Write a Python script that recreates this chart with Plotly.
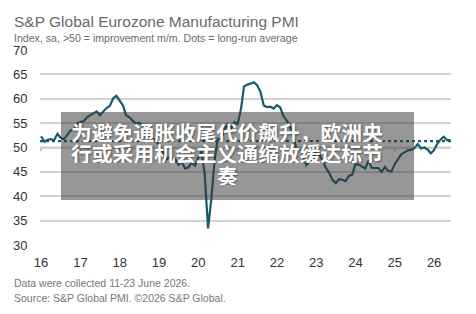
import pandas as pd
import plotly.graph_objects as go

# ---- data ----
pmi_2016 = [52.3, 51.2, 51.6, 51.7, 51.5, 52.8, 52.0, 51.7, 52.6, 53.5, 53.7, 54.9]
pmi_2017 = [55.2, 55.4, 56.2, 56.7, 57.0, 57.4, 56.6, 57.4, 58.1, 58.5, 60.1, 60.6]
pmi_2018 = [59.6, 58.6, 56.6, 56.2, 55.5, 54.9, 55.1, 54.6, 53.2, 52.0, 51.8, 51.4]
pmi_2019 = [50.5, 49.3, 47.5, 47.9, 47.7, 47.6, 46.5, 47.0, 45.7, 45.9, 46.9, 46.3]
pmi_2020 = [47.9, 49.2, 44.5, 33.4, 39.4, 47.4, 51.8, 51.7, 53.7, 54.8, 53.8, 55.2]
pmi_2021 = [54.8, 57.9, 62.5, 62.9, 63.1, 63.4, 62.8, 61.4, 58.6, 58.3, 58.4, 58.0]
pmi_2022 = [58.7, 58.2, 56.5, 55.5, 54.6, 52.1, 49.8, 49.6, 48.4, 46.4, 47.1, 47.8]
pmi_2023 = [48.8, 48.5, 47.3, 45.8, 44.8, 43.4, 42.7, 43.5, 43.4, 43.1, 44.2, 44.4]
pmi_2024 = [46.6, 46.5, 46.1, 45.7, 47.3, 45.8, 45.8, 45.8, 45.0, 46.0, 45.2, 45.1]
pmi_2025 = [46.6, 47.6, 48.6, 49.0, 49.4, 49.5, 49.8, 50.7, 49.8, 50.0, 49.6, 48.8]
pmi_2026 = [49.5, 50.8, 51.6, 52.2, 51.5, 51.5]
long_run_average = 51.3

years = list(range(2016, 2027))
tick_labels = ["16", "17", "18", "19", "20", "21", "22", "23", "24", "25", "26"]
y_ticks = [30, 35, 40, 45, 50, 55, 60, 65, 70]

title = "S&P Global Eurozone Manufacturing PMI"
subtitle = "Index, sa, >50 = improvement m/m. Dots = long-run average"
note1 = "Data were collected 11-23 June 2026."
note2 = "Source: S&P Global PMI. ©2026 S&P Global."
overlay_lines = ["为避免通胀收尾代价飙升，欧洲央", "行或采用机会主义通缩放缓达标节", "奏"]

pmi = (pmi_2016 + pmi_2017 + pmi_2018 + pmi_2019 + pmi_2020 + pmi_2021 +
       pmi_2022 + pmi_2023 + pmi_2024 + pmi_2025 + pmi_2026)
dates = pd.date_range("2016-01-01", periods=len(pmi), freq="MS")

# ---- layout geometry ----
W, H = 476, 314
ML, MR, MT, MB = 40, 25, 50, 69
PW, PH = W - ML - MR, H - MT - MB

def px_x(x):
    return (x - ML) / PW

def px_y(y):
    return (H - MB - y) / PH

LINE = "#135d6c"
x_range = ["2015-12-22", "2026-06-07"]

fig = go.Figure()
fig.add_trace(go.Scatter(
    x=[x_range[0], x_range[1]], y=[long_run_average, long_run_average],
    mode="lines", line=dict(color=LINE, width=2.2, dash="dot"),
    hoverinfo="skip", showlegend=False))
fig.add_trace(go.Scatter(
    x=dates, y=pmi, mode="lines",
    line=dict(color=LINE, width=2.2), showlegend=False))

shapes = []
# axis line at 50 and year ticks
shapes.append(dict(type="line", xref="paper", yref="y", x0=0, x1=1, y0=50, y1=50,
                   line=dict(color="#9a9a9a", width=1.5), layer="below"))
for yr in years:
    shapes.append(dict(type="line", xref="x", yref="y", x0=f"{yr}-01-01", x1=f"{yr}-01-01",
                       y0=50, y1=49.25, line=dict(color="#9a9a9a", width=1.2), layer="below"))
# grey overlay box
shapes.append(dict(type="rect", xref="paper", yref="paper",
                   x0=px_x(61), x1=px_x(414), y0=px_y(200), y1=px_y(112),
                   fillcolor="rgba(55,55,55,0.52)", line=dict(width=0), layer="above"))

annotations = [
    dict(text=title, xref="paper", yref="paper", x=px_x(12), y=px_y(21),
         xanchor="left", yanchor="middle", showarrow=False,
         font=dict(family="Liberation Sans, Arial", size=15.5, color="#6a6a6a")),
    dict(text=subtitle, xref="paper", yref="paper", x=px_x(12), y=px_y(37.5),
         xanchor="left", yanchor="middle", showarrow=False,
         font=dict(family="Liberation Sans, Arial", size=10.6, color="#6a6a6a")),
    dict(text=note1, xref="paper", yref="paper", x=px_x(12), y=px_y(282.5),
         xanchor="left", yanchor="middle", showarrow=False,
         font=dict(family="Liberation Sans, Arial", size=10.5, color="#777777")),
    dict(text=note2, xref="paper", yref="paper", x=px_x(12), y=px_y(297.5),
         xanchor="left", yanchor="middle", showarrow=False,
         font=dict(family="Liberation Sans, Arial", size=10.5, color="#777777")),
]
for line_text, ypix in zip(overlay_lines, [131.7, 153.0, 174.5]):
    annotations.append(dict(
        text=f"<b>{line_text}</b>", xref="paper", yref="paper", x=px_x(227), y=px_y(ypix),
        xanchor="center", yanchor="middle", showarrow=False, height=20,
        font=dict(family="Noto Sans CJK SC", size=20.8, color="white",
                  shadow="1px 1px 2px rgba(0,0,0,0.45)")))

fig.update_layout(
    width=W, height=H,
    margin=dict(l=ML, r=MR, t=MT, b=MB, pad=0),
    paper_bgcolor="white", plot_bgcolor="white",
    shapes=shapes, annotations=annotations,
    xaxis=dict(type="date", range=x_range, tickvals=[f"{y}-01-01" for y in years],
               ticktext=tick_labels, showgrid=False, zeroline=False, showline=False,
               ticks="outside", ticklen=5, tickcolor="rgba(0,0,0,0)",
               tickfont=dict(family="Liberation Sans, Arial", size=13, color="#333333")),
    yaxis=dict(range=[30, 70], tickvals=y_ticks, showgrid=True, gridcolor="#d2d2d2",
               gridwidth=1.5, zeroline=False, showline=False,
               ticks="outside", ticklen=9, tickcolor="rgba(0,0,0,0)",
               tickfont=dict(family="Liberation Sans, Arial", size=13, color="#333333")),
)

fig.write_html("out.html")
